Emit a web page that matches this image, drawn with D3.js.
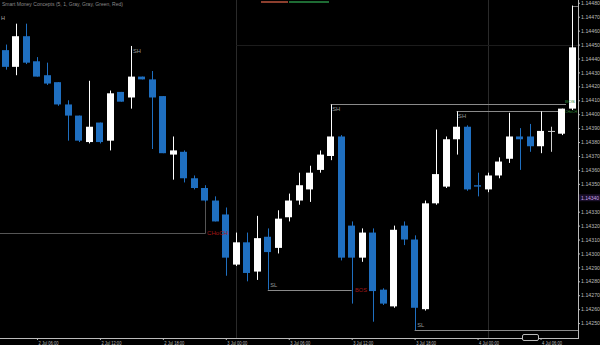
<!DOCTYPE html>
<html>
<head>
<meta charset="utf-8">
<script src="https://cdn.jsdelivr.net/npm/d3@7"></script>
<style>
body { margin: 0; background: #000; }
svg { display: block; }
text { font-family: "Liberation Sans", Arial, sans-serif; }
</style>
</head>
<body>
<script>
// hourly candles
var opens  = [1.14446,1.14434,1.14456,1.14438,1.14428,1.14423,1.14407,1.14399,1.14380,1.14394,
              1.14381,1.14416,1.14412,1.14427,1.14425,1.14413,1.14371,1.14373,1.14354,1.14347,
              1.14338,1.14328,1.14292,1.14308,1.14287,1.14312,1.14304,1.14326,1.14338,1.14346,
              1.14360,1.14370,1.14384,1.14320,1.14297,1.14315,1.14274,1.14262,1.14320,1.14310,
              1.14260,1.14336,1.14348,1.14382,1.14391,1.14349,1.14346,1.14356,1.14368,1.14384,
              1.14384,1.14377,1.14388,1.14386,1.14404];
var highs  = [1.14450,1.14465,1.14465,1.14441,1.14437,1.14423,1.14410,1.14399,1.14424,1.14394,
              1.14417,1.14416,1.14449,1.14427,1.14431,1.14413,1.14384,1.14374,1.14356,1.14349,
              1.14341,1.14333,1.14315,1.14315,1.14327,1.14318,1.14331,1.14343,1.14358,1.14363,
              1.14374,1.14407,1.14385,1.14323,1.14318,1.14318,1.14275,1.14320,1.14323,1.14313,
              1.14338,1.14389,1.14384,1.14402,1.14392,1.14358,1.14358,1.14369,1.14401,1.14390,
              1.14393,1.14402,1.14391,1.14404,1.14478];
var lows   = [1.14432,1.14428,1.14436,1.14427,1.14421,1.14406,1.14381,1.14380,1.14379,1.14379,
              1.14374,1.14409,1.14404,1.14425,1.14375,1.14372,1.14353,1.14351,1.14346,1.14337,
              1.14323,1.14284,1.14291,1.14280,1.14281,1.14274,1.14300,1.14323,1.14335,1.14337,
              1.14358,1.14367,1.14295,1.14264,1.14294,1.14251,1.14263,1.14261,1.14306,1.14245,
              1.14259,1.14335,1.14347,1.14371,1.14345,1.14341,1.14344,1.14354,1.14365,1.14360,
              1.14373,1.14372,1.14373,1.14385,1.14403];
var closes = [1.14434,1.14456,1.14437,1.14427,1.14422,1.14407,1.14399,1.14381,1.14391,1.14380,
              1.14415,1.14409,1.14427,1.14425,1.14412,1.14372,1.14374,1.14354,1.14347,1.14338,
              1.14323,1.14297,1.14308,1.14286,1.14311,1.14301,1.14325,1.14338,1.14349,1.14358,
              1.14371,1.14384,1.14297,1.14297,1.14315,1.14273,1.14264,1.14317,1.14310,1.14261,
              1.14336,1.14357,1.14382,1.14391,1.14346,1.14348,1.14356,1.14366,1.14384,1.14382,
              1.14377,1.14388,1.14388,1.14404,1.14448];

var priceTicks = [1.14480,1.14470,1.14460,1.14450,1.14440,1.14430,1.14420,1.14410,1.14400,1.14390,
                  1.14380,1.14370,1.14360,1.14350,1.14340,1.14330,1.14320,1.14310,1.14300,1.14290,
                  1.14280,1.14270,1.14260,1.14250];
var timeTickIdx = [3, 9, 15, 21, 27, 33, 39, 45, 51];
var timeTickLabels = ["2 Jul 06:00","2 Jul 12:00","2 Jul 18:00","3 Jul 00:00","3 Jul 06:00",
                      "3 Jul 12:00","3 Jul 18:00","4 Jul 00:00","4 Jul 06:00"];
var separatorIdx = [22, 46];

// swing points marked by the indicator
var swingHighIdx = [12, 31, 43];
var swingLowIdx = [25, 39];
var chochLevel = 1.14315;
var topLevel = 1.14450;
var markerPrice = 1.14340;

var W = 600, H = 345,
    plotR = 578, plotB = 338,
    candleW = 7;

var svg = d3.select("body").append("svg")
    .attr("width", W)
    .attr("height", H);

svg.append("rect").attr("width", W).attr("height", H).attr("fill", "#000");

var x = d3.scaleLinear().domain([0, opens.length - 1]).range([5.5, 572]);
var y = d3.scaleLinear().domain([1.142393, 1.14482]).range([plotB, 0]);

var candles = opens.map(function(o, i) {
    return { i: i, o: o, h: highs[i], l: lows[i], c: closes[i] };
});

function colorOf(d) {
    if (d.c > d.o) return "#ffffff";
    if (d.c < d.o) return "#1f6fc0";
    return "#d0d0d0";
}
function px(v) { return Math.round(v) + 0.5; }

// day separators
svg.selectAll(".sep")
    .data(separatorIdx)
    .enter().append("line")
    .attr("x1", function(d) { return px(x(d)); })
    .attr("x2", function(d) { return px(x(d)); })
    .attr("y1", 0).attr("y2", plotB)
    .attr("stroke", "#2a2a2a");

// structure lines
var gray = "#8a8a8a";
function seg(x1, y1, x2, y2, col) {
    svg.append("line")
        .attr("x1", x1).attr("x2", x2)
        .attr("y1", y1).attr("y2", y2)
        .attr("stroke", col || gray);
}
seg(x(22), px(y(topLevel)), plotR, px(y(topLevel)), "#1c1c1c");
seg(x(swingHighIdx[1]), px(y(highs[swingHighIdx[1]])), 566, px(y(highs[swingHighIdx[1]])));
seg(x(swingHighIdx[2]), px(y(highs[swingHighIdx[2]])), 560, px(y(highs[swingHighIdx[2]])));
seg(x(swingLowIdx[0]), px(y(lows[swingLowIdx[0]])), x(33), px(y(lows[swingLowIdx[0]])));
seg(x(swingLowIdx[1]), px(y(lows[swingLowIdx[1]])), plotR, px(y(lows[swingLowIdx[1]])));
seg(0, px(y(chochLevel)), px(x(19)), px(y(chochLevel)), "#555");
seg(px(x(19)), y(lows[19]), px(x(19)), px(y(chochLevel)), "#555");
seg(px(x(54)), px(y(highs[54])), plotR, px(y(highs[54])), "#777");

// wicks
svg.selectAll(".wick")
    .data(candles)
    .enter().append("line")
    .attr("x1", function(d) { return px(x(d.i)); })
    .attr("x2", function(d) { return px(x(d.i)); })
    .attr("y1", function(d) { return y(d.h); })
    .attr("y2", function(d) { return y(d.l); })
    .attr("stroke", colorOf);

// bodies
svg.selectAll(".body")
    .data(candles)
    .enter().append("rect")
    .attr("x", function(d) { return Math.round(x(d.i) - candleW / 2); })
    .attr("width", candleW)
    .attr("y", function(d) { return y(Math.max(d.o, d.c)); })
    .attr("height", function(d) { return Math.max(1, Math.abs(y(d.o) - y(d.c))); })
    .attr("fill", colorOf);

// labels
function label(tx, ty, str, col, len, size) {
    var t = svg.append("text")
        .attr("x", tx).attr("y", ty)
        .attr("font-size", size || 6)
        .attr("fill", col)
        .text(str);
    if (len) t.attr("textLength", len).attr("lengthAdjust", "spacingAndGlyphs");
    return t;
}
swingHighIdx.forEach(function(i) {
    label(x(i) + 1.5, y(highs[i]) + 7, "SH", "#999", 8);
});
swingLowIdx.forEach(function(i) {
    label(x(i) + 2.5, y(lows[i]) - 3, "SL", "#999", 7);
});
label(1, 20, "H", "#aaa", 4);
label(207, 235, "CHoCH", "#a01818", 21);
label(355, 292, "BOS", "#a01818", 12);
label(565, y(highs[31]) - 1, "BOS", "#2f8a3a", 10, 4);
label(565, y(highs[43]) + 1.5, "CHoCH", "#2f8a3a", 12, 3.5);
label(2, 6, "Smart Money Concepts (5, 1, Gray, Gray, Green, Red)", "#8a8a8a", 121, 5);

// top bars
svg.append("rect").attr("x", 261).attr("y", 1).attr("width", 27).attr("height", 2).attr("fill", "#8c3f2e");
svg.append("rect").attr("x", 289).attr("y", 1).attr("width", 40).attr("height", 2).attr("fill", "#1e6b34");

// price axis
var yAxis = d3.axisRight(y)
    .tickValues(priceTicks)
    .tickSize(2)
    .tickFormat(d3.format(".5f"));
var gy = svg.append("g")
    .attr("transform", "translate(" + plotR + ",0)")
    .call(yAxis);
gy.select(".domain").attr("stroke", "#bbb").attr("d", "M0.5,0V" + plotB);
gy.selectAll(".tick line").attr("stroke", "#bbb");
gy.selectAll(".tick text")
    .attr("fill", "#bbb")
    .attr("font-size", 5)
    .attr("x", 3)
    .attr("textLength", 19)
    .attr("lengthAdjust", "spacingAndGlyphs");

// current marker
svg.append("rect").attr("x", 579).attr("y", y(markerPrice) - 3.5).attr("width", 21).attr("height", 7).attr("fill", "#1a0f2a");
svg.append("text").attr("x", 581).attr("y", y(markerPrice) + 2)
    .attr("font-size", 5).attr("fill", "#c9a0e8")
    .attr("textLength", 18).attr("lengthAdjust", "spacingAndGlyphs")
    .text(d3.format(".5f")(markerPrice));

// time axis
var xAxis = d3.axisBottom(x)
    .tickValues(timeTickIdx)
    .tickSize(2)
    .tickFormat(function(d, k) { return timeTickLabels[k]; });
var gx = svg.append("g")
    .attr("transform", "translate(0," + plotB + ")")
    .call(xAxis);
gx.select(".domain").attr("stroke", "#bbb").attr("d", "M0,0.5H" + (plotR + 1));
gx.selectAll(".tick line").attr("stroke", "#bbb");
gx.selectAll(".tick text")
    .attr("fill", "#bbb")
    .attr("font-size", 5)
    .attr("text-anchor", "start")
    .attr("x", 1)
    .attr("y", 3)
    .attr("textLength", 20)
    .attr("lengthAdjust", "spacingAndGlyphs");

// time marker box
svg.append("rect").attr("x", 522.5).attr("y", 334.5).attr("width", 16).attr("height", 6)
    .attr("rx", 1.5).attr("fill", "#000").attr("stroke", "#bbb");
</script>
</body>
</html>
